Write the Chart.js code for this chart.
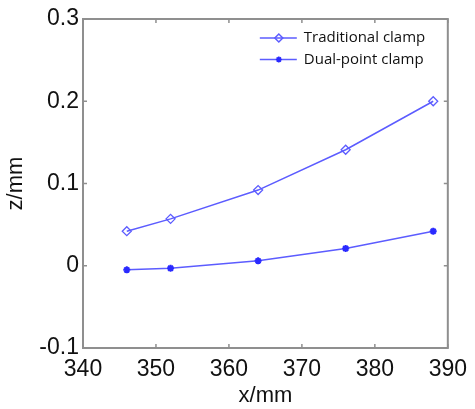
<!DOCTYPE html>
<html>
<head>
<meta charset="utf-8">
<script src="https://cdn.jsdelivr.net/npm/chart.js@4/dist/chart.umd.min.js"></script>
<style>
  html, body { margin: 0; padding: 0; background: #fff; }
  #wrap { width: 475px; height: 409px; position: relative; }
</style>
</head>
<body>
<div id="wrap"><canvas id="c" width="475" height="409"></canvas></div>
<script>
// Clamp span x (mm) and measured deflection z (mm)
const xValues = [346, 352, 364, 376, 388];
const traditionalClamp = [0.042, 0.057, 0.092, 0.141, 0.200];
const dualPointClamp = [-0.005, -0.003, 0.006, 0.021, 0.042];
const xTicks = [340, 350, 360, 370, 380, 390];
const yTicks = [-0.1, 0, 0.1, 0.2, 0.3];
const seriesNames = ['Traditional clamp', 'Dual-point clamp'];

const lineColor = '#5c5cff';
const markColor = '#2a2aff';
const frameColor = '#8f8f8f';
const tickFont = { family: '"Liberation Sans", Arial, sans-serif', size: 23 };

const toPoints = (xs, ys) => xs.map((x, i) => ({ x, y: ys[i] }));

// Box frame with short inward tick marks on all four sides
const framePlugin = {
  id: 'frame',
  afterDatasetsDraw(chart) {
    const { ctx, chartArea: a, scales } = chart;
    ctx.save();
    ctx.strokeStyle = frameColor;
    ctx.lineWidth = 2;
    ctx.strokeRect(a.left, a.top, a.right - a.left, a.bottom - a.top);
    ctx.lineWidth = 1.5;
    const t = 4;
    ctx.beginPath();
    xTicks.forEach(v => {
      const px = scales.x.getPixelForValue(v);
      ctx.moveTo(px, a.bottom); ctx.lineTo(px, a.bottom - t);
      ctx.moveTo(px, a.top); ctx.lineTo(px, a.top + t);
    });
    yTicks.forEach(v => {
      const py = scales.y.getPixelForValue(v);
      ctx.moveTo(a.left, py); ctx.lineTo(a.left + t, py);
      ctx.moveTo(a.right, py); ctx.lineTo(a.right - t, py);
    });
    ctx.stroke();
    ctx.restore();
  }
};

// Legend in the upper right corner of the plot area
const legendPlugin = {
  id: 'insideLegend',
  afterDraw(chart) {
    const { ctx, chartArea: a } = chart;
    ctx.save();
    ctx.font = '15px "Open Sans", "Noto Sans", sans-serif';
    ctx.textBaseline = 'middle';
    ctx.textAlign = 'left';
    chart.data.datasets.forEach((ds, i) => {
      const y = a.top + 19 + i * 21.5;
      const x0 = a.right - 188;
      ctx.strokeStyle = lineColor;
      ctx.lineWidth = 1.5;
      ctx.beginPath();
      ctx.moveTo(x0, y); ctx.lineTo(x0 + 37, y);
      ctx.stroke();
      ctx.strokeStyle = ds.pointBorderColor;
      ctx.fillStyle = ds.pointBackgroundColor;
      Chart.helpers.drawPoint(ctx, {
        pointStyle: ds.pointStyle,
        radius: ds.pointRadius - 0.5,
        borderWidth: ds.pointBorderWidth,
        rotation: 0
      }, x0 + 19, y);
      ctx.fillStyle = '#111';
      ctx.fillText(ds.label, x0 + 44, y);
    });
    ctx.restore();
  }
};

new Chart(document.getElementById('c'), {
  type: 'scatter',
  data: {
    datasets: [
      {
        label: seriesNames[0],
        data: toPoints(xValues, traditionalClamp),
        showLine: true,
        borderColor: lineColor,
        borderWidth: 1.5,
        pointStyle: 'rectRot',
        pointRadius: 4.5,
        pointBorderWidth: 1.3,
        pointBorderColor: lineColor,
        pointBackgroundColor: 'rgba(255,255,255,0)'
      },
      {
        label: seriesNames[1],
        data: toPoints(xValues, dualPointClamp),
        showLine: true,
        borderColor: lineColor,
        borderWidth: 1.5,
        pointStyle: 'star',
        pointRadius: 3.5,
        pointBorderWidth: 2,
        pointBorderColor: markColor,
        pointBackgroundColor: markColor
      }
    ]
  },
  options: {
    responsive: false,
    animation: false,
    layout: { padding: { top: 19, right: 22, left: 3, bottom: 0 } },
    plugins: { legend: { display: false }, tooltip: { enabled: false } },
    scales: {
      x: {
        type: 'linear',
        min: 340, max: 390,
        afterBuildTicks: s => { s.ticks = xTicks.map(v => ({ value: v })); },
        afterFit: s => { s.height = 61; },
        grid: { display: false, drawTicks: false },
        border: { display: false },
        ticks: { color: '#111', font: tickFont, padding: 8, maxRotation: 0, autoSkip: false },
        title: { display: true, text: 'x/mm', color: '#111', font: { family: tickFont.family, size: 22 }, padding: { top: 4, bottom: 0 } }
      },
      y: {
        type: 'linear',
        min: -0.1, max: 0.3,
        afterBuildTicks: s => { s.ticks = yTicks.map(v => ({ value: v })); },
        afterFit: s => { s.width = 80; },
        grid: { display: false, drawTicks: false },
        border: { display: false },
        ticks: {
          color: '#111', font: tickFont, padding: 4, autoSkip: false,
          callback: v => String(Number(v.toFixed(1)))
        },
        title: { display: true, text: 'z/mm', color: '#111', font: { family: tickFont.family, size: 22 }, padding: { top: 0, bottom: 0 } }
      }
    }
  },
  plugins: [framePlugin, legendPlugin]
});
</script>
</body>
</html>
